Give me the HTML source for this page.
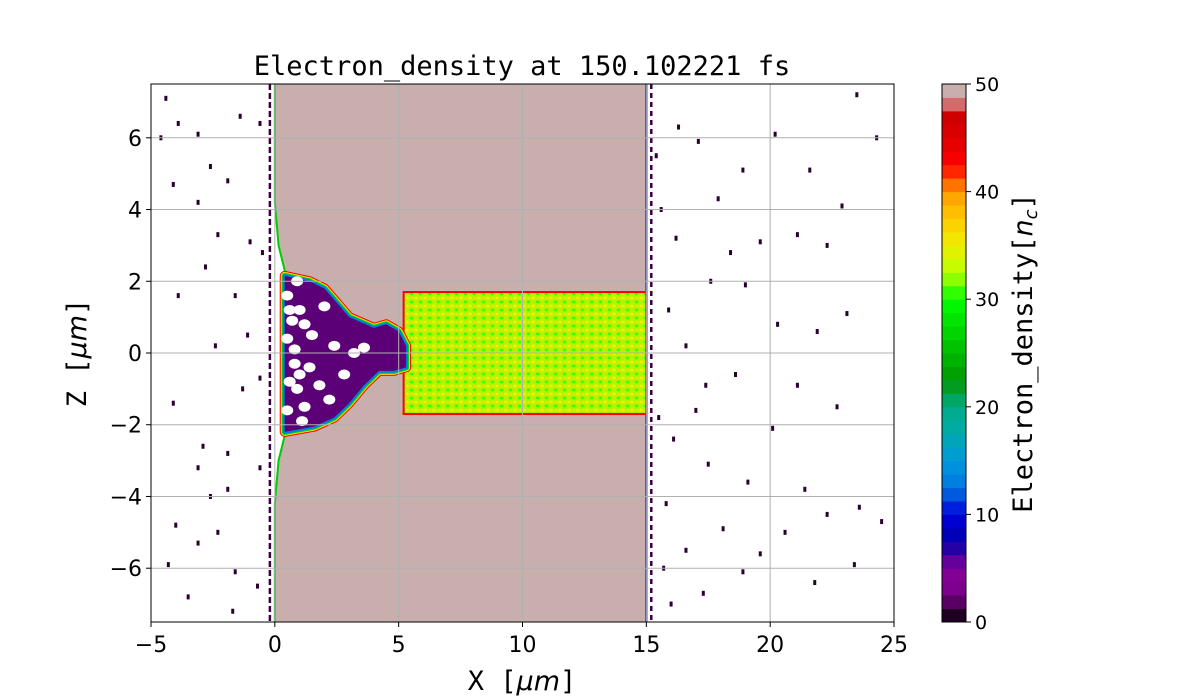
<!DOCTYPE html>
<html><head><meta charset="utf-8"><style>
body{margin:0;background:#fff;}
#chart text{font-family:"DejaVu Sans","Liberation Sans",sans-serif;}
.mono{font-family:"DejaVu Sans Mono","Liberation Mono",monospace;}
</style></head><body>
<svg id="chart" width="1200" height="700" xmlns="http://www.w3.org/2000/svg" style="position:absolute;left:0;top:0">
<defs>
<pattern id="speck" width="9" height="8" patternUnits="userSpaceOnUse">
<rect width="9" height="8" fill="#b8f200"/>
<ellipse cx="2" cy="2" rx="2" ry="1.5" fill="#eef000"/>
<ellipse cx="6.5" cy="6" rx="1.8" ry="1.4" fill="#33ff00"/>
<ellipse cx="7" cy="2" rx="1" ry="1" fill="#ffe000"/>
</pattern>
<clipPath id="plotclip"><rect x="151" y="84" width="743" height="538"/></clipPath>
</defs>
<g id="plot" clip-path="url(#plotclip)"></g>
<g id="axes"></g>
</svg>
<script>
const xTicks=[-5,0,5,10,15,20,25];
const zTicks=[-6,-4,-2,0,2,4,6];
const cbTicks=[0,10,20,30,40,50];
const targetX=[0,15];
const channelX=[5.2,15];
const channelZ=[-1.7,1.7];
const plumeTop=[[0.4,2.15],[1.4,2.0],[2.0,1.8],[2.5,1.4],[3.0,1.0],[3.5,0.85],[4.0,0.7],[4.5,0.8],[5.0,0.6],[5.3,0.2]];
const plumeBot=[[5.3,-0.4],[4.8,-0.5],[4.2,-0.5],[3.6,-0.9],[3.0,-1.4],[2.4,-1.8],[1.6,-2.05],[0.4,-2.2]];
const holes=[[1.0,1.2],[1.5,0.5],[0.8,-0.3],[1.8,-0.9],[1.2,-1.5],[2.4,0.2],[3.2,0.0],[2.0,1.3],[0.7,0.9],[1.4,-0.4],[2.8,-0.6],[3.6,0.15],[0.9,-1.0],[2.2,-1.3],[0.5,1.6],[0.5,0.4],[0.6,-0.8],[0.5,-1.6],[0.9,2.0],[0.8,0.1],[1.1,-1.9],[0.6,1.2],[1.2,0.8],[1.0,-0.6]];
const dots=[[-4.4,7.1],[-4.6,6.0],[-3.9,6.4],[-3.1,6.1],[-2.6,5.2],[-1.4,6.6],[-0.6,6.4],[-1.9,4.8],[-3.1,4.2],[-2.3,3.3],[-1.0,3.1],[-0.5,2.8],[-4.1,4.7],[-2.8,2.4],[-1.6,1.6],[-3.9,1.6],[-1.1,0.5],[-2.4,0.2],[-0.6,-0.7],[-1.3,-1.0],[-4.1,-1.4],[-2.9,-2.6],[-1.9,-2.8],[-3.1,-3.2],[-0.6,-3.2],[-2.6,-4.0],[-1.9,-3.8],[-4.0,-4.8],[-2.3,-5.0],[-3.1,-5.3],[-1.6,-6.1],[-4.3,-5.9],[-3.5,-6.8],[-1.7,-7.2],[-0.7,-6.5],
[16.3,6.3],[17.1,5.9],[17.9,4.3],[18.9,5.1],[20.2,6.1],[21.6,5.1],[22.9,4.1],[19.6,3.1],[21.1,3.3],[22.3,3.0],[17.6,2.0],[19.0,1.9],[20.3,0.8],[21.9,0.6],[23.1,1.1],[16.6,0.2],[17.4,-0.9],[18.6,-0.6],[21.1,-0.9],[22.7,-1.5],[20.1,-2.1],[16.1,-2.4],[17.5,-3.1],[19.1,-3.6],[21.4,-3.8],[22.3,-4.5],[18.1,-4.9],[20.6,-5.0],[23.6,-4.3],[16.6,-5.5],[19.6,-5.6],[21.8,-6.4],[17.3,-6.7],[18.9,-6.1],[23.4,-5.9],[24.5,-4.7],[24.3,6.0],[23.5,7.2],[16.0,-7.0],[15.6,4.0],[15.9,1.2],[15.8,-4.2],[15.4,5.5],[15.5,-1.8],[16.2,3.2],[15.7,-6.0],[17.0,-1.6],[18.4,2.8]];
const X0=151,X1=894,Y0=84,Y1=622;
const xs=v=>X0+(v+5)/30*(X1-X0);
const ys=v=>Y1-(v+7.5)/15*(Y1-Y0);
const cy=v=>Y1-v/50*(Y1-Y0);
const NS='http://www.w3.org/2000/svg';
function mk(tag,attrs,parent){const e=document.createElementNS(NS,tag);for(const k in attrs)e.setAttribute(k,attrs[k]);parent.appendChild(e);return e;}
const plot=document.getElementById('plot'),axes=document.getElementById('axes');
dots.forEach(d=>{const e=mk('rect',{x:xs(d[0])-1.5,y:ys(d[1])-2.5,width:3,height:5,fill:'#2a0030'},plot);

});
const pink=[[targetX[0],7.5],[targetX[0],4.2],[0.15,3.0],[0.4,2.3],[0.4,2.2],[0.4,-2.25],[0.4,-2.3],[0.15,-3.0],[targetX[0],-4.2],[targetX[0],-7.5],[targetX[1],-7.5],[targetX[1],7.5]];
const pts=a=>a.map(p=>xs(p[0])+','+ys(p[1])).join(' ');
let e=mk('polygon',{points:pts(pink),fill:'#c9aeae'},plot);


e=mk('polyline',{points:pts(pink.slice(0,10)),fill:'none',stroke:'#00cc00','stroke-width':2},plot);


e=mk('line',{x1:xs(-0.2),x2:xs(-0.2),y1:Y0,y2:Y1,stroke:'#3a0040','stroke-width':2.5,'stroke-dasharray':'6 3'},plot);


e=mk('line',{x1:xs(targetX[1]),x2:xs(targetX[1]),y1:Y0,y2:Y1,stroke:'#0000cc','stroke-width':2},plot);


e=mk('line',{x1:xs(15.2),x2:xs(15.2),y1:Y0,y2:Y1,stroke:'#3a0040','stroke-width':2.5,'stroke-dasharray':'5 4'},plot);


e=mk('rect',{x:xs(channelX[0]),y:ys(channelZ[1]),width:xs(channelX[1])-xs(channelX[0]),height:ys(channelZ[0])-ys(channelZ[1]),fill:'url(#speck)',stroke:'#ff0000','stroke-width':2},plot);


const plume=pts(plumeTop.concat(plumeBot));
[['#ff0000',10],['#f0e000',8],['#00dd00',6],['#0080dd',4]].forEach(s=>{const p=mk('polygon',{points:plume,fill:s[0],stroke:s[0],'stroke-width':s[1],'stroke-linejoin':'round'},plot);

});
e=mk('polygon',{points:plume,fill:'#5c0078'},plot);


holes.forEach(h=>{const c=mk('ellipse',{cx:xs(h[0]),cy:ys(h[1]),rx:6,ry:5,fill:'#ffffff'},plot);

});
xTicks.forEach(t=>{const g=mk('line',{x1:xs(t),x2:xs(t),y1:Y0,y2:Y1,stroke:'#b0b0b0','stroke-width':1},plot);

});
zTicks.forEach(t=>{const g=mk('line',{x1:X0,x2:X1,y1:ys(t),y2:ys(t),stroke:'#b0b0b0','stroke-width':1},plot);

});
e=mk('rect',{x:X0,y:Y0,width:X1-X0,height:Y1-Y0,fill:'none',stroke:'#000','stroke-width':1},axes);


xTicks.forEach(t=>{mk('line',{x1:xs(t),x2:xs(t),y1:Y1,y2:Y1+5,stroke:'#000'},axes);
const l=mk('text',{x:xs(t),y:Y1+30,'font-size':22,'text-anchor':'middle'},axes);l.textContent=t<0?'\u2212'+(-t):t;

});
zTicks.forEach(t=>{mk('line',{x1:X0-5,x2:X0,y1:ys(t),y2:ys(t),stroke:'#000'},axes);
const l=mk('text',{x:X0-9,y:ys(t)+8,'font-size':22,'text-anchor':'end'},axes);l.textContent=t<0?'\u2212'+(-t):t;

});
const stops=[[0,[0,0,0]],[.05,[.47,0,.53]],[.1,[.53,0,.6]],[.15,[0,0,.67]],[.2,[0,0,.87]],[.25,[0,.47,.87]],[.3,[0,.6,.87]],[.35,[0,.67,.67]],[.4,[0,.67,.53]],[.45,[0,.6,0]],[.5,[0,.73,0]],[.55,[0,.87,0]],[.6,[0,1,0]],[.65,[.73,1,0]],[.7,[.93,.93,0]],[.75,[1,.8,0]],[.8,[1,.6,0]],[.85,[1,0,0]],[.9,[.87,0,0]],[.95,[.8,0,0]],[1,[.8,.8,.8]]];
function cmap(v){for(let i=1;i<stops.length;i++){if(v<=stops[i][0]){const a=stops[i-1],b=stops[i],f=(v-a[0])/(b[0]-a[0]);return 'rgb('+a[1].map((c,k)=>Math.round(255*(c+(b[1][k]-c)*f))).join(',')+')';}}return '#ccc';}
const CB0=942,CB1=966,N=40;
for(let i=0;i<N;i++){const v0=i*50/N,v1=(i+1)*50/N;let col=cmap((i+0.5)/N);if(i===N-1)col='#c9aeae';if(i===N-2)col='#d46a6a';
const r=mk('rect',{x:CB0,y:cy(v1),width:CB1-CB0,height:cy(v0)-cy(v1)+0.5,fill:col},axes);

}
e=mk('rect',{x:CB0,y:Y0,width:CB1-CB0,height:Y1-Y0,fill:'none',stroke:'#000'},axes);


cbTicks.forEach(t=>{mk('line',{x1:CB1,x2:CB1+5,y1:cy(t),y2:cy(t),stroke:'#000'},axes);
const l=mk('text',{x:CB1+9,y:cy(t)+7,'font-size':19},axes);l.textContent=t;

});
</script>
<svg style="position:absolute;left:0;top:0" width="1200" height="700">
<text class="mono" x="522" y="75" font-size="27" text-anchor="middle">Electron_density at 150.102221 fs</text>
<text class="mono" x="522" y="690" font-size="27" text-anchor="middle">X [<tspan font-style="italic" style="font-family:'DejaVu Sans',sans-serif">μm</tspan>]</text>
<text class="mono" transform="translate(86,353) rotate(-90)" font-size="27" text-anchor="middle">Z [<tspan font-style="italic" style="font-family:'DejaVu Sans',sans-serif">μm</tspan>]</text>
<text class="mono" transform="translate(1032,353) rotate(-90)" font-size="27" text-anchor="middle">Electron_density[<tspan font-style="italic" style="font-family:'DejaVu Sans',sans-serif">n<tspan font-size="18" dy="5">c</tspan></tspan><tspan dy="-5">]</tspan></text>
</svg>
</body></html>
